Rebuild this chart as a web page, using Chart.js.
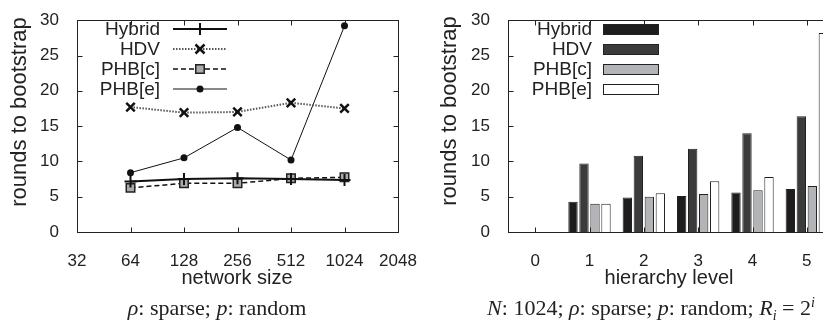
<!DOCTYPE html>
<html>
<head>
<meta charset="utf-8">
<title>rounds to bootstrap</title>
<script src="https://cdn.jsdelivr.net/npm/chart.js@4.4.1/dist/chart.umd.min.js"></script>
<style>
  html, body { margin: 0; padding: 0; background: #fff; }
  body { width: 823px; height: 327px; overflow: hidden; position: relative; }
  #left { position: absolute; left: 0; top: 0; }
  #right { position: absolute; left: 410px; top: 0; }
  .caption {
    position: absolute; top: 296px; width: 400px; text-align: center; color: #222; white-space: nowrap;
    font-family: "Liberation Serif", "Times New Roman", serif; font-size: 22px; line-height: 24px;
  }
  .caption sub, .caption sup { font-size: 14px; line-height: 0; }
</style>
</head>
<body>
<canvas id="left" width="440" height="300"></canvas>
<canvas id="right" width="440" height="300"></canvas>
<div class="caption" style="left:17px"><i>ρ</i>: sparse; <i>p</i>: random</div>
<div class="caption" style="left:451px"><i>N</i>: 1024; <i>ρ</i>: sparse; <i>p</i>: random; <i>R</i><sub><i>i</i></sub> = 2<sup><i>i</i></sup></div>

<script>
'use strict';

// Left panel: rounds to bootstrap vs network size
const networkSizes = [64, 128, 256, 512, 1024];
const sizeTicks = [32, 64, 128, 256, 512, 1024, 2048];
const hybridBySize = [7.15, 7.5, 7.6, 7.5, 7.35];
const hdvBySize = [17.7, 16.9, 17.0, 18.3, 17.5];
const phbcBySize = [6.25, 6.9, 6.9, 7.6, 7.75];
const phbeBySize = [8.4, 10.5, 14.8, 10.2, 29.2];

// Right panel: rounds to bootstrap per hierarchy level
const levels = ['0', '1', '2', '3', '4', '5'];
const hybridByLevel = [0, 4.3, 4.9, 5.1, 5.6, 6.1];
const hdvByLevel = [0, 9.7, 10.8, 11.8, 14.0, 16.4];
const phbcByLevel = [0, 4.0, 5.0, 5.4, 5.9, 6.5];
const phbeByLevel = [0, 4.0, 5.5, 7.2, 7.8, 28.2];

const seriesNames = ['Hybrid', 'HDV', 'PHB[c]', 'PHB[e]'];

const INK = '#222';
const SANS = '"Liberation Sans", Arial, Helvetica, sans-serif';

// network sizes go on a log2 axis
function toPoints(values) {
  return values.map((v, i) => ({ x: Math.log2(networkSizes[i]), y: v }));
}

// small marker painter for the legend samples
function drawMarker(ctx, style, r, x, y) {
  ctx.beginPath();
  if (style === 'cross') {
    ctx.moveTo(x - r, y); ctx.lineTo(x + r, y);
    ctx.moveTo(x, y - r); ctx.lineTo(x, y + r);
    ctx.stroke();
  } else if (style === 'crossRot') {
    const d = r * 0.75;
    ctx.moveTo(x - d, y - d); ctx.lineTo(x + d, y + d);
    ctx.moveTo(x + d, y - d); ctx.lineTo(x - d, y + d);
    ctx.stroke();
  } else if (style === 'rect') {
    const s = r * Math.SQRT1_2;
    ctx.rect(x - s, y - s, 2 * s, 2 * s);
    ctx.fill();
    ctx.stroke();
  } else {
    ctx.arc(x, y, r, 0, Math.PI * 2);
    ctx.fill();
  }
}

// gnuplot style box: border, inward ticks on all sides, axis titles and key
const gnuFrame = {
  id: 'gnuFrame',
  afterDraw(chart, args, opts) {
    const ctx = chart.ctx;
    const a = chart.chartArea;
    const xs = chart.scales.x;
    const ys = chart.scales.y;
    ctx.save();
    ctx.strokeStyle = INK;
    ctx.lineWidth = 1;
    ctx.setLineDash([]);
    const L = Math.round(a.left) + 0.5, R = Math.round(a.right) + 0.5;
    const T = Math.round(a.top) + 0.5, B = Math.round(a.bottom) + 0.5;
    ctx.strokeRect(L, T, R - L, B - T);

    ctx.beginPath();
    xs.ticks.forEach((t, i) => {
      const x = Math.round(xs.getPixelForTick(i)) + 0.5;
      ctx.moveTo(x, B); ctx.lineTo(x, B - 5);
      ctx.moveTo(x, T); ctx.lineTo(x, T + 5);
    });
    ys.ticks.forEach((t, i) => {
      const y = Math.round(ys.getPixelForTick(i)) + 0.5;
      ctx.moveTo(L, y); ctx.lineTo(L + 5, y);
      ctx.moveTo(R, y); ctx.lineTo(R - 5, y);
    });
    ctx.stroke();

    // axis titles
    ctx.fillStyle = INK;
    ctx.textAlign = 'center';
    ctx.textBaseline = 'middle';
    ctx.font = '20px ' + SANS;
    ctx.fillText(opts.xTitle, opts.xTitleAt[0], opts.xTitleAt[1]);
    ctx.save();
    ctx.translate(opts.yTitleAt[0], opts.yTitleAt[1]);
    ctx.rotate(-Math.PI / 2);
    ctx.font = '22px ' + SANS;
    ctx.fillText(opts.yTitle, 0, 0);
    ctx.restore();

    // key
    ctx.font = '19px ' + SANS;
    ctx.textAlign = 'right';
    chart.data.datasets.forEach((ds, i) => {
      const y = opts.keyTop + i * 20;
      ctx.fillStyle = INK;
      ctx.fillText(ds.label, opts.keyTextRight, y + 1);
      const x0 = opts.keySample[0], x1 = opts.keySample[1];
      if (chart.config.type === 'bar') {
        ctx.fillStyle = ds.backgroundColor;
        ctx.fillRect(x0, y - 5, x1 - x0, 11);
        ctx.strokeStyle = ds.borderColor;
        ctx.lineWidth = 1;
        ctx.strokeRect(x0 + 0.5, y - 4.5, x1 - x0, 10);
      } else {
        ctx.strokeStyle = ds.borderColor;
        ctx.lineWidth = ds.borderWidth;
        ctx.setLineDash(ds.borderDash || []);
        ctx.beginPath();
        ctx.moveTo(x0, y); ctx.lineTo(x1, y);
        ctx.stroke();
        ctx.setLineDash([]);
        ctx.strokeStyle = ds.pointBorderColor;
        ctx.fillStyle = ds.pointBackgroundColor;
        ctx.lineWidth = ds.pointBorderWidth;
        drawMarker(ctx, ds.pointStyle, ds.pointRadius, (x0 + x1) / 2, y);
      }
    });
    ctx.restore();
  }
};

const tickFont = { family: SANS, size: 17 };

function yScale(width) {
  return {
    min: 0, max: 30,
    ticks: { stepSize: 5, font: tickFont, color: INK, padding: 10 },
    grid: { display: false },
    border: { display: false },
    afterFit(s) { s.width = width; }
  };
}

// left chart
new Chart(document.getElementById('left'), {
  type: 'line',
  data: {
    datasets: [
      {
        label: seriesNames[0], data: toPoints(hybridBySize),
        borderColor: '#111', borderWidth: 2,
        pointStyle: 'cross', pointRadius: 6, pointBorderWidth: 2,
        pointBorderColor: '#111', pointBackgroundColor: '#111'
      },
      {
        label: seriesNames[1], data: toPoints(hdvBySize),
        borderColor: '#555', borderWidth: 2, borderDash: [1.5, 1.5],
        pointStyle: 'crossRot', pointRadius: 6, pointBorderWidth: 2.5,
        pointBorderColor: '#111', pointBackgroundColor: '#111'
      },
      {
        label: seriesNames[2], data: toPoints(phbcBySize),
        borderColor: '#111', borderWidth: 1.5, borderDash: [5, 3],
        pointStyle: 'rect', pointRadius: 6, pointBorderWidth: 1.5,
        pointBorderColor: '#222', pointBackgroundColor: '#aaa'
      },
      {
        label: seriesNames[3], data: toPoints(phbeBySize),
        borderColor: '#111', borderWidth: 1,
        pointStyle: 'circle', pointRadius: 3.5, pointBorderWidth: 0,
        pointBorderColor: '#111', pointBackgroundColor: '#111'
      }
    ]
  },
  options: {
    responsive: false,
    animation: false,
    elements: { line: { tension: 0 } },
    layout: { padding: { top: 13, right: 42, left: 0, bottom: 0 } },
    plugins: {
      legend: { display: false },
      tooltip: { enabled: false },
      gnuFrame: {
        xTitle: 'network size', xTitleAt: [237, 278],
        yTitle: 'rounds to bootstrap', yTitleAt: [20, 112],
        keyTop: 29, keyTextRight: 160, keySample: [173, 227]
      }
    },
    scales: {
      x: {
        type: 'linear',
        min: Math.log2(sizeTicks[0]),
        max: Math.log2(sizeTicks[sizeTicks.length - 1]),
        afterBuildTicks(s) { s.ticks = sizeTicks.map(v => ({ value: Math.log2(v) })); },
        ticks: { font: tickFont, color: INK, padding: 11, callback: v => String(Math.round(Math.pow(2, v))) },
        grid: { display: false },
        border: { display: false },
        afterFit(s) { s.height = 68; }
      },
      y: yScale(77)
    }
  },
  plugins: [gnuFrame]
});

// right chart
const barStyle = { borderColor: '#222', borderWidth: 1, categoryPercentage: 0.81, barPercentage: 0.85 };

new Chart(document.getElementById('right'), {
  type: 'bar',
  data: {
    labels: levels,
    datasets: [
      Object.assign({ label: seriesNames[0], data: hybridByLevel, backgroundColor: '#1f1c1d' }, barStyle),
      Object.assign({ label: seriesNames[1], data: hdvByLevel, backgroundColor: '#3b3b3b' }, barStyle),
      Object.assign({ label: seriesNames[2], data: phbcByLevel, backgroundColor: '#b3b4b7' }, barStyle),
      Object.assign({ label: seriesNames[3], data: phbeByLevel, backgroundColor: '#ffffff' }, barStyle)
    ]
  },
  options: {
    responsive: false,
    animation: false,
    layout: { padding: { top: 13, right: 16, left: 0, bottom: 0 } },
    plugins: {
      legend: { display: false },
      tooltip: { enabled: false },
      gnuFrame: {
        xTitle: 'hierarchy level', xTitleAt: [259, 278],
        yTitle: 'rounds to bootstrap', yTitleAt: [40, 111],
        keyTop: 29, keyTextRight: 182, keySample: [193, 248]
      }
    },
    scales: {
      x: {
        type: 'category',
        ticks: { font: tickFont, color: INK, padding: 11 },
        grid: { display: false, offset: true },
        border: { display: false },
        afterFit(s) { s.height = 68; }
      },
      y: yScale(98)
    }
  },
  plugins: [gnuFrame]
});
</script>
</body>
</html>
